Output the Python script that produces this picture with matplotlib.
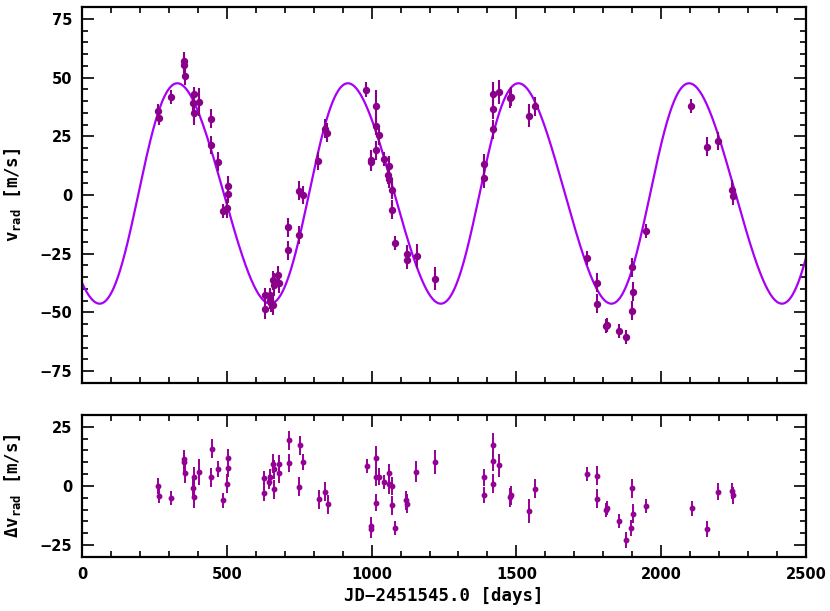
import numpy as np
import matplotlib
matplotlib.use("Agg")
import matplotlib.pyplot as plt
from matplotlib.ticker import MultipleLocator

# ---- data ----
# radial velocities (top panel): time [JD-2451545.0], v [m/s], error [m/s]
t_obs = [263, 267, 308, 353, 353, 357, 384, 386, 387, 405, 444, 447, 471, 488,
         502, 503, 503, 631, 632, 649, 649, 654, 658, 661, 663, 678, 679, 712,
         712, 749, 750, 762, 816, 839, 847, 982, 997, 999, 1014, 1014, 1014,
         1027, 1043, 1056, 1059, 1059, 1070, 1070, 1082, 1121, 1122, 1156, 1220,
         1387, 1389, 1418, 1418, 1420, 1440, 1477, 1480, 1544, 1565, 1743, 1777,
         1777, 1809, 1812, 1854, 1877, 1898, 1900, 1901, 1946, 2104, 2157, 2195,
         2246, 2248]
v_obs = [35.7, 32.9, 41.8, 56.9, 55.5, 50.8, 39.0, 43.1, 34.7, 39.7, 21.3, 32.5,
         14.1, -6.8, -5.6, 0.6, 3.9, -42.4, -48.6, -42.7, -44.5, -45.8, -36.3,
         -46.9, -38.1, -34.2, -37.6, -13.7, -23.6, -17.0, 1.8, 0.0, 14.5, 28.2,
         26.5, 44.9, 14.1, 15.0, 37.8, 29.4, 19.1, 25.4, 15.3, 8.5, 12.4, 6.8,
         2.3, -6.2, -20.5, -25.3, -27.5, -26.0, -35.6, 13.4, 7.1, 42.9, 36.4,
         28.0, 43.8, 41.2, 41.8, 33.8, 37.8, -26.8, -37.3, -46.3, -55.9, -55.4,
         -57.9, -60.5, -49.2, -30.8, -41.2, -15.4, 37.8, 20.5, 23.0, 2.3, -0.4]
v_err = [3, 3, 3, 4, 4, 4, 4, 3, 5, 6, 4, 4, 4, 3, 4, 4, 4, 3, 4, 3, 4, 4, 4, 4,
         5, 4, 4, 4, 4, 4, 4, 4, 4, 4, 4, 3, 4, 4, 7, 4, 4, 4, 3, 4, 4, 4, 4, 4,
         3, 4, 4, 5, 5, 4, 4, 5, 4, 4, 5, 4, 4, 5, 4, 3, 4, 4, 3, 3, 3, 3, 4, 4,
         4, 3, 3, 4, 4, 4, 4]

# residuals (bottom panel)
t_res = [263, 267, 308, 353, 353, 357, 384, 385, 386, 405, 445, 448, 471, 488,
         502, 503, 503, 630, 630, 647, 648, 660, 662, 662, 679, 679, 714, 714,
         751, 753, 762, 818, 839, 848, 983, 997, 998, 1015, 1016, 1016, 1027,
         1044, 1059, 1059, 1070, 1071, 1082, 1119, 1122, 1153, 1220, 1387, 1389,
         1418, 1418, 1420, 1440, 1477, 1480, 1544, 1565, 1744, 1777, 1778, 1809,
         1813, 1854, 1878, 1897, 1900, 1901, 1947, 2105, 2157, 2195, 2245, 2247]
dv = [0.0, -4.3, -5.0, 11.4, 10.1, 5.4, -0.7, 4.0, -4.6, 6.1, 3.7, 15.8, 7.1,
      -6.1, 0.9, 7.8, 11.7, 3.3, -2.8, 1.8, 3.7, 9.4, -1.4, 7.1, 9.3, 5.4, 19.4,
      9.7, -0.3, 17.2, 10.1, -5.7, -2.4, -7.7, 8.3, -18.1, -17.1, 11.8, 4.0,
      -7.0, 4.0, 1.6, 5.4, 0.8, 0.0, -8.1, -17.7, -6.0, -7.5, 6.0, 10.1, 3.7,
      -3.8, 17.2, 10.4, 0.9, 8.7, -4.8, -4.0, -10.5, -1.1, 5.1, -5.4, 4.3,
      -10.0, -9.3, -14.7, -22.9, -17.8, -1.0, -11.8, -8.4, -9.5, -18.1, -2.4,
      -2.1, -4.0]
dv_err = [3.5, 3, 3, 4, 4, 4, 3.5, 4, 4.5, 5.5, 4, 4, 3.5, 3, 4, 4, 4, 3, 3.5,
          3, 3.5, 4, 4, 4, 4, 4, 4, 4, 4, 4, 3.5, 4, 4, 4, 3, 4, 4, 5, 4, 3.5,
          3.5, 3, 4, 4, 4, 4, 3, 4, 4, 4.5, 5, 3.5, 3.5, 5, 4, 4, 5, 4, 4, 5, 4,
          3, 4, 4, 3, 3, 3, 3.5, 3.5, 4, 4, 3, 3, 3.5, 3.5, 3.5, 3.5]

# orbital solution of the model curve
period = 589.0     # days
k_amp = 46.9       # m/s
ecc = 0.07
omega = 270.0      # deg
t_peri = 195.0     # days
gamma = 0.65       # m/s


def kepler_rv(t):
    m = 2 * np.pi * (np.asarray(t) - t_peri) / period
    e_anom = m.copy()
    for _ in range(30):
        e_anom = e_anom - (e_anom - ecc * np.sin(e_anom) - m) / (1 - ecc * np.cos(e_anom))
    nu = 2 * np.arctan2(np.sqrt(1 + ecc) * np.sin(e_anom / 2),
                        np.sqrt(1 - ecc) * np.cos(e_anom / 2))
    w = np.radians(omega)
    return k_amp * (np.cos(nu + w) + ecc * np.cos(w)) + gamma


t_model = np.linspace(0, 2500, 2000)
v_model = kepler_rv(t_model)

# ---- plot ----
pt_col = "#8b008b"
curve_col = "#a800f6"
tick_font = {"family": "DejaVu Sans", "weight": "bold", "size": 10.5}
lab_font = {"family": "DejaVu Sans Mono", "weight": "bold", "size": 12.5}

fig = plt.figure(figsize=(8.3, 6.11), dpi=100)
ax1 = fig.add_axes([0.0988, 0.3732, 0.8723, 0.6153])
ax2 = fig.add_axes([0.0988, 0.0884, 0.8723, 0.2324])

ax1.plot(t_model, v_model, color=curve_col, lw=1.6, zorder=2)
ax1.errorbar(t_obs, v_obs, yerr=v_err, fmt="o", color=pt_col, ms=4.3,
             elinewidth=1.5, capsize=0, zorder=3)
ax2.errorbar(t_res, dv, yerr=dv_err, fmt="o", color="#950095", ms=3.2,
             elinewidth=1.4, capsize=0, zorder=3)

ax1.set_xlim(0, 2500)
ax1.set_ylim(-80, 80)
ax2.set_xlim(0, 2500)
ax2.set_ylim(-30, 30)

for ax in (ax1, ax2):
    ax.xaxis.set_major_locator(MultipleLocator(500))
    ax.xaxis.set_minor_locator(MultipleLocator(100))
    ax.yaxis.set_major_locator(MultipleLocator(25))
    ax.yaxis.set_minor_locator(MultipleLocator(5))
    ax.tick_params(which="both", direction="in", top=True, right=True, width=1.2)
    ax.tick_params(which="major", length=8.5, pad=7)
    ax.tick_params(which="minor", length=4)
    for sp in ax.spines.values():
        sp.set_linewidth(1.6)

ax1.tick_params(axis="x", labelbottom=False)
ax1.set_yticks([-75, -50, -25, 0, 25, 50, 75])
ax1.set_yticklabels(["\u221275", "\u221250", "\u221225", "0", "25", "50", "75"],
                    fontdict=tick_font)
ax2.set_yticks([-25, 0, 25])
ax2.set_yticklabels(["\u221225", "0", "25"], fontdict=tick_font)
ax2.set_xticks([0, 500, 1000, 1500, 2000, 2500])
ax2.set_xticklabels(["0", "500", "1000", "1500", "2000", "2500"], fontdict=tick_font)

ax1.set_ylabel(r"$\mathregular{v_{rad}}$ [m/s]", fontdict=lab_font)
ax2.set_ylabel(r"$\mathregular{\Delta v_{rad}}$ [m/s]", fontdict=lab_font)
ax1.yaxis.set_label_coords(-0.082, 0.5)
ax2.yaxis.set_label_coords(-0.082, 0.5)
ax2.set_xlabel("JD\u22122451545.0 [days]", fontdict=lab_font, labelpad=4)

fig.savefig("out.png", dpi=100)
